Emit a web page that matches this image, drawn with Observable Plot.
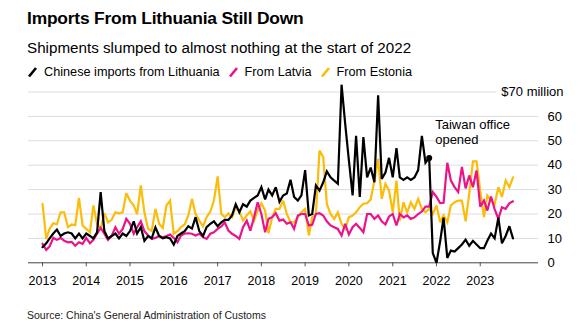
<!DOCTYPE html>
<html>
<head>
<meta charset="utf-8">
<script src="https://cdn.jsdelivr.net/npm/d3@7"></script>
<script src="https://cdn.jsdelivr.net/npm/@observablehq/plot@0.6"></script>
<style>
  html, body { margin: 0; padding: 0; background: #fff; }
  body { width: 586px; height: 336px; overflow: hidden; font-family: "Liberation Sans", Arial, sans-serif; color: #000; }
  #header { position: relative; height: 84px; }
  .title { position: absolute; left: 27px; top: 8px; font-size: 17.4px; font-weight: bold; letter-spacing: -0.2px; white-space: nowrap; }
  .subtitle { position: absolute; left: 27px; top: 39px; font-size: 15.2px; white-space: nowrap; }
  .legend { position: absolute; left: 27px; top: 65px; font-size: 12.7px; white-space: nowrap; display: flex; align-items: center; }
  .legend .item { display: flex; align-items: center; margin-right: 8px; }
  .legend svg { margin-right: 6px; }
  #chart svg { display: block; overflow: visible; }
  .source { font-size: 10.5px; color: #222; margin: 13px 0 0 27px; white-space: nowrap; }
</style>
</head>
<body>
<div id="header">
  <div class="title">Imports From Lithuania Still Down</div>
  <div class="subtitle">Shipments slumped to almost nothing at the start of 2022</div>
  <div class="legend" id="legend"></div>
</div>
<div id="chart"></div>
<div class="source">Source: China's General Administration of Customs</div>
<script>
// ---- Data (monthly, Jan 2013 – Oct 2023), $ million ----
const seriesNames = ["Chinese imports from Lithuania", "From Latvia", "From Estonia"];
const seriesColors = ["#000000", "#ec138a", "#fbbc0a"];
const startYear = 2013;

const lithuania = [
  6.4, 8, 10, 12, 13.6, 11, 12, 12.5, 12, 10, 12, 10,
  12, 11, 10, 12.5, 29, 13, 10, 11, 12, 10, 12, 11,
  13, 17, 12, 14.6, 9, 11, 10, 14.5, 11, 10, 10.5, 10,
  7.5, 11, 12, 13, 15, 14, 18.7, 13, 11, 14.6, 16, 17,
  15, 16.6, 17.6, 17.6, 19.4, 24, 20.7, 24, 23, 25.5, 26.6, 27.6,
  31, 26, 30, 27.6, 31, 25, 27.6, 28.4, 34, 27, 25.5, 27.6,
  38, 19.4, 20, 31.7, 29.6, 33, 37.5, 35, 33.7, 32.4, 73, 57,
  42, 27.6, 52, 27, 51.5, 35, 39, 33, 68.6, 34.4, 37, 43,
  35, 47, 35, 34, 35, 34, 35, 38, 52, 41, 43, 4,
  0, 9, 18.5, 2, 5, 4.6, 6, 7.5, 9.5, 7, 9, 7.5,
  6, 6, 9, 12, 10, 18.5, 8, 11, 15, 10
];
const latvia = [
  7.8, 5.3, 6.7, 10.2, 9.4, 10.2, 9, 8.4, 8.6, 7, 8.4, 7.8,
  10.2, 8, 9.4, 11.9, 14.3, 11.9, 9.4, 11, 14.6, 11.9, 13.9, 18,
  16, 11.9, 14.6, 17, 13, 11.2, 9.8, 10.2, 11, 10.5, 11, 11.6,
  10.2, 8.4, 11.2, 12, 12.1, 11.9, 11.2, 11.9, 10.5, 9.8, 11.9, 12.5,
  13.9, 14.9, 16.6, 13.2, 11.9, 11, 9.8, 14.6, 17.3, 13.2, 18.7, 24.8,
  20, 12.5, 18, 18.7, 20.3, 17.3, 17.7, 16, 16.6, 13.9, 19.4, 20,
  20, 15.3, 15.6, 20, 20.3, 19.4, 17, 15.3, 14.6, 13.9, 11.2, 16,
  11.6, 14.6, 16, 14.3, 12.5, 20, 20, 18, 19.4, 17, 15.7, 19,
  20, 15.3, 20, 18.6, 19.4, 18, 18.6, 20, 21, 23, 23, 29,
  27, 24.5, 24.6, 41, 33.7, 31, 29, 39.3, 30.5, 35.8, 31, 37.8,
  23, 25.5, 21.4, 27.2, 22, 18, 22.8, 22.1, 24.4, 25.2
];
const estonia = [
  24.2, 9.8, 14, 16.2, 15.8, 20.7, 20.7, 14.6, 15.7, 15.4, 26.6, 15.3,
  13.9, 12.5, 23.5, 16, 14, 20.3, 16.6, 17.6, 20.7, 20.3, 20.7, 28.5,
  25.5, 23.5, 20, 31.7, 20.7, 13.9, 13, 22.1, 16, 14.3, 23.5, 25.5,
  11.9, 13, 14.6, 15.7, 19.4, 26.2, 20, 17.3, 14.9, 18.7, 21, 25.5,
  35.4, 20, 18.7, 20.3, 18.7, 22.8, 21, 17.3, 19.4, 21.1, 17.3, 21.4,
  24.4, 21.4, 12.1, 18.7, 22.1, 22.1, 25.5, 20, 16.6, 16.6, 18.7, 20.7,
  22.1, 11.2, 18.7, 20, 46, 43.3, 24.2, 20, 18, 20.7, 16, 13.9,
  18.7, 19.4, 20.7, 22.8, 24.2, 24.4, 26, 33.7, 42.6, 26.2, 32.4, 29.6,
  20.7, 33.7, 17.3, 24.8, 20.7, 24.8, 22.1, 26.2, 22.1, 20.7, 22.1, 20,
  23.5, 16.6, 19.4, 16.6, 23.5, 24.8, 25.5, 25.5, 17, 28.3, 41.6, 41.6,
  29.6, 18.7, 27.6, 25.5, 24, 31, 27, 33.7, 31, 35
];
const yearTicks = [2013, 2014, 2015, 2016, 2017, 2018, 2019, 2020, 2021, 2022, 2023];
const valueTicks = [0, 10, 20, 30, 40, 50, 60];
const topTick = 70;
const topTickLabel = "$70 million";
const annotation = { label: "Taiwan office\nopened", date: "2021-12-21", value: 53.6 };
const eventPoint = { date: "2021-11-01", value: 43 };

// ---- Build table ----
const allSeries = [lithuania, latvia, estonia];
const rows = [];
allSeries.forEach((vals, s) => {
  vals.forEach((v, i) => rows.push({ date: new Date(Date.UTC(startYear, i, 1)), value: v, series: seriesNames[s] }));
});
const drawOrder = [seriesNames[2], seriesNames[1], seriesNames[0]];

// ---- Legend ----
const legend = document.getElementById("legend");
seriesNames.forEach((name, i) => {
  const item = document.createElement("div");
  item.className = "item";
  item.innerHTML = `<svg width="11" height="12" viewBox="0 0 11 12"><line x1="2" y1="10.5" x2="9" y2="2" stroke="${seriesColors[i]}" stroke-width="2.6" stroke-linecap="butt"/></svg><span>${name}</span>`;
  legend.appendChild(item);
});

// ---- Chart ----
const xDomain = [new Date(Date.UTC(2012, 8, 6)), new Date(Date.UTC(2024, 4, 1))];
const gridTopEnd = new Date(Date.UTC(2023, 4, 21));

const chart = Plot.plot({
  width: 586,
  height: 212,
  marginLeft: 28,
  marginRight: 48,
  marginTop: 7.5,
  marginBottom: 33.7,
  style: { fontFamily: "'Liberation Sans', Arial, sans-serif", fontSize: "13px", color: "#000", overflow: "visible", background: "#fff" },
  x: { type: "utc", domain: xDomain },
  y: { domain: [0, topTick] },
  color: { domain: seriesNames, range: seriesColors },
  marks: [
    Plot.ruleY(valueTicks.filter(d => d > 0), { stroke: "#dcdcdc", strokeWidth: 1 }),
    Plot.ruleY([topTick], { x1: xDomain[0], x2: gridTopEnd, stroke: "#dcdcdc", strokeWidth: 1 }),
    Plot.axisY(valueTicks, { anchor: "right", tickSize: 0, tickPadding: 9, textAnchor: "start", label: null, fontSize: 13 }),
    Plot.text([topTick], { y: d => d, frameAnchor: "right", text: () => topTickLabel, textAnchor: "end", dx: 25, fontSize: 13 }),
    Plot.axisX(yearTicks.map(y => new Date(Date.UTC(y, 0, 1))), { tickFormat: d3.utcFormat("%Y"), tickSize: 4, tickPadding: 9, stroke: "#555", label: null, fontSize: 12.5 }),
    Plot.ruleY([0], { stroke: "#444", strokeWidth: 1 }),
    ...drawOrder.map(name => Plot.line(rows.filter(r => r.series === name), {
      x: "date", y: "value", stroke: "series", strokeWidth: 2.2, strokeLinejoin: "miter", strokeMiterlimit: 3
    })),
    Plot.dot([eventPoint], { x: d => new Date(d.date), y: "value", r: 3, fill: "#000" }),
    Plot.text([annotation], { x: d => new Date(d.date), y: "value", text: "label", textAnchor: "start", lineAnchor: "middle", lineHeight: 1.15, fontSize: 13 })
  ]
});
document.getElementById("chart").appendChild(chart);
</script>
</body>
</html>
